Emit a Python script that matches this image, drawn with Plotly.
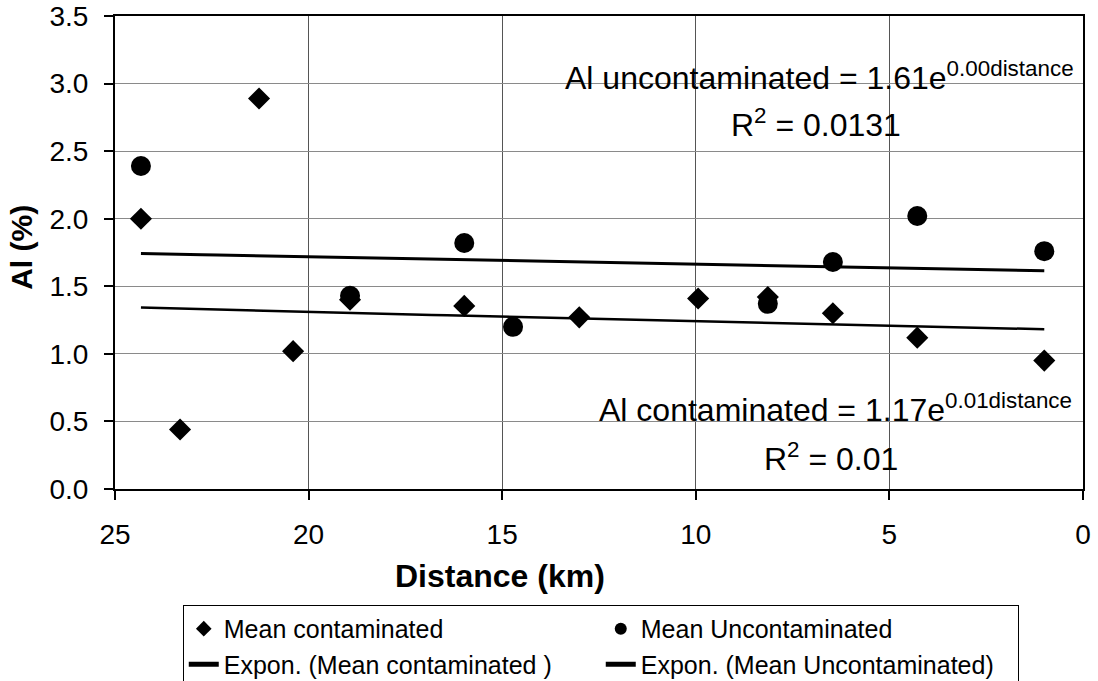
import numpy as np
import plotly.graph_objects as go

# Mean Al (%) by distance (km) for the two groups of sites
dist_contaminated = [24.33, 23.32, 21.28, 20.40, 18.93, 15.98, 13.01, 9.94, 8.14, 6.46, 4.28, 1.00]
al_contaminated = [2.00, 0.44, 2.89, 1.02, 1.40, 1.355, 1.27, 1.41, 1.42, 1.30, 1.12, 0.95]

dist_uncontaminated = [24.33, 18.93, 15.98, 14.72, 8.14, 6.46, 4.28, 1.00]
al_uncontaminated = [2.39, 1.43, 1.82, 1.20, 1.37, 1.68, 2.02, 1.76]

x_ticks = [25, 20, 15, 10, 5, 0]
y_ticks = [0.0, 0.5, 1.0, 1.5, 2.0, 2.5, 3.0, 3.5]

FONT = "Liberation Sans, Arial, sans-serif"


def expon_fit(x, y):
    """Least-squares fit of y = a*exp(b*x) on ln(y), as a spreadsheet trendline does."""
    x = np.asarray(x, float)
    y = np.asarray(y, float)
    b, ln_a = np.polyfit(x, np.log(y), 1)
    xs = np.linspace(x.min(), x.max(), 60)
    return xs, np.exp(ln_a) * np.exp(b * xs)


xc, yc = expon_fit(dist_contaminated, al_contaminated)
xu, yu = expon_fit(dist_uncontaminated, al_uncontaminated)

fig = go.Figure()
fig.add_trace(go.Scatter(
    x=dist_contaminated, y=al_contaminated, mode="markers",
    name="Mean contaminated",
    marker=dict(symbol="diamond", size=17, color="black"),
))
fig.add_trace(go.Scatter(
    x=dist_uncontaminated, y=al_uncontaminated, mode="markers",
    name="Mean Uncontaminated",
    marker=dict(symbol="circle", size=20, color="black"),
))
fig.add_trace(go.Scatter(
    x=xc, y=yc, mode="lines", name="Expon. (Mean contaminated )",
    line=dict(color="black", width=2.5),
))
fig.add_trace(go.Scatter(
    x=xu, y=yu, mode="lines", name="Expon. (Mean Uncontaminated)",
    line=dict(color="black", width=3),
))

# Trendline equations
ann_font = dict(family=FONT, size=32, color="black")
fig.add_annotation(x=6.8, y=3.057, xref="x", yref="y", showarrow=False,
                   text="Al uncontaminated = 1.61e<sup>0.00distance</sup>",
                   font=ann_font, xanchor="center", yanchor="middle")
fig.add_annotation(x=6.9, y=2.71, xref="x", yref="y", showarrow=False,
                   text="R<sup>2</sup> = 0.0131",
                   font=ann_font, xanchor="center", yanchor="middle")
fig.add_annotation(x=6.4, y=0.60, xref="x", yref="y", showarrow=False,
                   text="Al contaminated = 1.17e<sup>0.01distance</sup>",
                   font=ann_font, xanchor="center", yanchor="middle")
fig.add_annotation(x=6.5, y=0.237, xref="x", yref="y", showarrow=False,
                   text="R<sup>2</sup> = 0.01",
                   font=ann_font, xanchor="center", yanchor="middle")

# Axis titles
fig.add_annotation(x=0.398, y=-0.184, xref="paper", yref="paper", showarrow=False,
                   text="<b>Distance (km)</b>",
                   font=dict(family=FONT, size=32, color="black"),
                   xanchor="center", yanchor="middle")
fig.add_annotation(x=-0.096, y=0.51, xref="paper", yref="paper", showarrow=False,
                   text="<b>Al (%)</b>", textangle=-90,
                   font=dict(family=FONT, size=30, color="black"),
                   xanchor="center", yanchor="middle")

fig.update_xaxes(
    range=[25, 0], tickvals=x_ticks, ticktext=[str(v) for v in x_ticks],
    showgrid=True, gridcolor="#555555", gridwidth=1,
    showline=True, linecolor="black", linewidth=2, mirror=True,
    ticks="outside", ticklen=9, tickwidth=2, tickcolor="black",
    ticklabelstandoff=10,
    tickfont=dict(family=FONT, size=28, color="black"),
    zeroline=False, automargin=False,
)
fig.update_yaxes(
    range=[0, 3.5], tickvals=y_ticks, ticktext=[f"{v:.1f}" for v in y_ticks],
    showgrid=True, gridcolor="#8a8a8a", gridwidth=1,
    showline=True, linecolor="black", linewidth=2, mirror=True,
    ticks="outside", ticklen=9, tickwidth=2, tickcolor="black",
    ticklabelstandoff=10,
    tickfont=dict(family=FONT, size=28, color="black"),
    zeroline=False, automargin=False,
)

fig.update_layout(
    width=1098, height=681,
    margin=dict(l=115, r=15, t=16, b=192, autoexpand=False),
    paper_bgcolor="white", plot_bgcolor="white",
    font=dict(family=FONT, color="black"),
    showlegend=True,
    legend=dict(
        orientation="h", x=0.07, y=-0.245, xanchor="left", yanchor="top",
        entrywidth=372, entrywidthmode="pixels",
        bordercolor="black", borderwidth=1, bgcolor="white",
        font=dict(family=FONT, size=25, color="black"),
        traceorder="normal", tracegroupgap=0, itemsizing="constant",
    ),
)

fig.write_html("out.html")
